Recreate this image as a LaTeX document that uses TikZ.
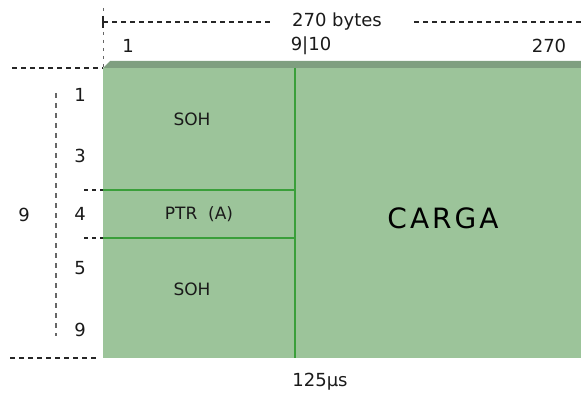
\documentclass[tikz,border=0pt]{standalone}
\usepackage{fontspec}
\setmainfont{DejaVu Sans}
\usetikzlibrary{calc}
\definecolor{fillg}{HTML}{9CC49A}
\definecolor{topg}{HTML}{7F9F80}
\definecolor{lineg}{HTML}{3A9F3A}
\definecolor{txt}{HTML}{1A1A1A}
\tikzset{
  dsh/.style={draw=black!85, dash pattern=on 5pt off 4pt, line width=1.2pt},
  gline/.style={draw=lineg, line width=1.6pt},
  lbl/.style={text=txt, font=\fontsize{18}{18}\selectfont, inner sep=0pt},
  boxlbl/.style={text=txt, font=\fontsize{17}{17}\selectfont, inner sep=0pt},
}
\begin{document}
\begin{tikzpicture}[x=1pt,y=-1pt]
\useasboundingbox (0,0) rectangle (581,393);
% body
\fill[fillg] (103,68) rectangle (581,358);
\fill[topg] (103,68) -- (110,61) -- (581,61) -- (581,68) -- cycle;
\coordinate (tl) at (103,68);
\coordinate (bl) at (103,358);
\coordinate (vt) at (295,68);
\coordinate (vb) at (295,358);
\coordinate (h1l) at (103,190);
\coordinate (h1r) at (295,190);
\coordinate (h2l) at (103,238);
\coordinate (h2r) at (295,238);
\draw[gline] (vt) -- (vb);
\draw[gline] (h1l) -- (h1r);
\draw[gline] (h2l) -- (h2r);
% dashed guides
\coordinate (ll) at (12,68);
\coordinate (bll) at (10,358);
\coordinate (blr) at (96,358);
\coordinate (vtop) at (103,8);
\coordinate (ta) at (103,22);
\coordinate (tb) at (270,22);
\coordinate (tc) at (414,22);
\coordinate (td) at (581,22);
\coordinate (lv1) at (56,93);
\coordinate (lv2) at (56,336);
\coordinate (d1a) at (84,190);
\coordinate (d2a) at (84,238);
\draw[dsh] (ll) -- (tl);
\draw[dsh] (bll) -- (blr);
\draw[dsh, dash pattern=on 3pt off 5pt, line width=0.8pt, draw=black!60] (vtop) -- (tl);
\draw[dsh] (ta) -- (tb);
\draw[dsh] (tc) -- (td);
\draw[dsh, dash pattern=on 5pt off 5pt, draw=black!60, line width=1.5pt] (lv1) -- (lv2);
\draw[dsh, dash pattern=on 4pt off 4pt] (d1a) -- (h1l);
\draw[dsh, dash pattern=on 4pt off 4pt] (d2a) -- (h2l);
\draw[black!85, line width=1.2pt] (103,16) -- (103,28);
% labels
\node[lbl] (bytes) at (337,22) {270 bytes};
\node[lbl] (c1) at (128,46) {1};
\node[lbl] (c910) at (311,46) {9|10};
\node[lbl] (c270) at (549,46) {270};
\node[lbl] (r9) at (24,215) {9};
\node[lbl] (r1) at (80,95) {1};
\node[lbl] (r3) at (80,156) {3};
\node[lbl] (r4) at (80,214) {4};
\node[lbl] (r5) at (80,268) {5};
\node[lbl] (r99) at (80,330) {9};
\node[boxlbl] (soh1) at (192,119) {SOH};
\node[boxlbl] (ptr) at (199,214) {PTR\ \ (A)};
\node[boxlbl] (soh2) at (192,289) {SOH};
\node[text=black, font=\fontsize{28}{28}\selectfont, inner sep=0pt] (carga) at (443,218) {C\kern3pt A\kern3pt R\kern3pt G\kern3pt A};
\node[lbl] (us) at (320,382) {125µs};
\end{tikzpicture}
\end{document}
